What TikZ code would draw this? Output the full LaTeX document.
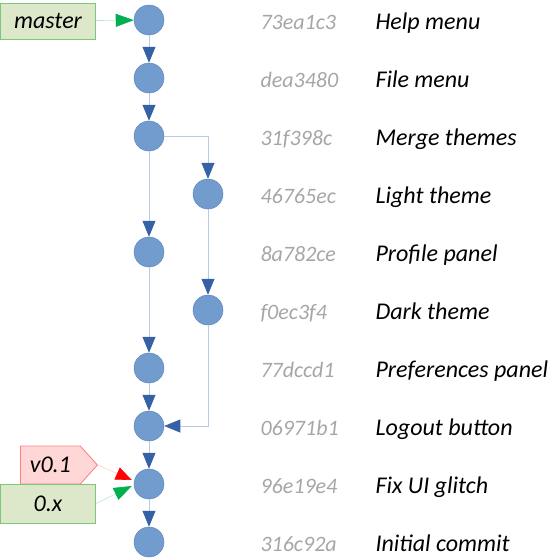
\documentclass[tikz,border=0pt]{standalone}
\usepackage{fontspec}
\setmainfont{Carlito}
\usetikzlibrary{arrows.meta,shapes.symbols}
\definecolor{cfill}{RGB}{114,156,205}
\definecolor{cedge}{RGB}{96,138,192}
\definecolor{ctip}{RGB}{52,98,165}
\definecolor{cline}{RGB}{184,202,230}
\definecolor{cgray}{RGB}{166,166,166}
\definecolor{bfill}{RGB}{221,232,203}
\definecolor{bedge}{RGB}{122,200,122}
\definecolor{gtip}{RGB}{0,176,80}
\definecolor{gline}{RGB}{190,228,200}
\definecolor{tfill}{RGB}{255,215,215}
\definecolor{tedge}{RGB}{255,125,125}
\definecolor{rtip}{RGB}{255,0,0}
\definecolor{rline}{RGB}{255,205,205}

\begin{document}
\begin{tikzpicture}[x=1pt,y=-1pt,
	commit/.style={circle,fill=cfill,draw=cedge,line width=0.5pt,minimum size=30pt,inner sep=0pt},
	link/.style={draw=cline,line width=0.8pt,-{Triangle[length=16pt,width=13pt,color=ctip]}},
	hash/.style={anchor=base west,text=cgray,font=\itshape\fontsize{22}{22}\selectfont},
	msg/.style={anchor=base west,font=\itshape\fontsize{24}{24}\selectfont},
	branch/.style={rectangle,fill=bfill,draw=bedge,line width=0.8pt,minimum width=95pt,minimum height=36pt,inner sep=0pt,font=\itshape\fontsize{24}{24}\selectfont},
	tag/.style={signal,signal to=east,signal pointer angle=96,fill=tfill,draw=tedge,line width=0.8pt,minimum width=77pt,minimum height=38pt,inner sep=0pt,font=\itshape\fontsize{24}{24}\selectfont},
	gptr/.style={draw=gline,line width=0.6pt,-{Triangle[length=18pt,width=13pt,color=gtip]}},
	rptr/.style={draw=rline,line width=0.6pt,-{Triangle[length=16pt,width=13pt,color=rtip]}}]
\useasboundingbox(0,0)rectangle(555,558);
\node[commit](k1)at(149,20){};
\node[commit](k2)at(149,78){};
\node[commit](k3)at(149,136){};
\node[commit](k4)at(208,194){};
\node[commit](k5)at(149,252){};
\node[commit](k6)at(208,310){};
\node[commit](k7)at(149,368){};
\node[commit](k8)at(149,426){};
\node[commit](k9)at(149,484){};
\node[commit](k10)at(149,542){};
\node[hash](h1)at(257,29){73ea1c3};\node[msg](m1)at(372,29){Help menu};
\node[hash](h2)at(257,87){dea3480};\node[msg](m2)at(372,87){File menu};
\node[hash](h3)at(257,145){31f398c};\node[msg](m3)at(372,145){Merge themes};
\node[hash](h4)at(257,203){46765ec};\node[msg](m4)at(372,203){Light theme};
\node[hash](h5)at(257,261){8a782ce};\node[msg](m5)at(372,261){Profile panel};
\node[hash](h6)at(257,319){f0ec3f4};\node[msg](m6)at(372,319){Dark theme};
\node[hash](h7)at(257,377){77dccd1};\node[msg](m7)at(372,377){Preferences panel};
\node[hash](h8)at(257,435){06971b1};\node[msg](m8)at(372,435){Logout button};
\node[hash](h9)at(257,493){96e19e4};\node[msg](m9)at(372,493){Fix UI glitch};
\node[hash](h10)at(257,551){316c92a};\node[msg](m10)at(372,551){Initial commit};
\node[branch](master)at(48,21){master};
\node[tag,anchor=west](v01)at(20,465){v0.1};
\node[branch,minimum height=39pt](zerox)at(48,503.5){0.x};
\draw[link](k1)--(k2);
\draw[link](k2)--(k3);
\draw[link](k3)-|(k4);
\draw[link](k3)--(k5);
\draw[link](k4)--(k6);
\draw[link](k5)--(k7);
\draw[link](k7)--(k8);
\draw[link](k6)|-(k8);
\draw[link](k8)--(k9);
\draw[link](k9)--(k10);
\draw[gptr](master)--(k1);
\draw[rptr](v01.east)--([yshift=4pt,xshift=-2pt]k9.west);
\draw[gptr](zerox.east)--([yshift=-2pt,xshift=-2pt]k9.west);
\end{tikzpicture}
\end{document}
